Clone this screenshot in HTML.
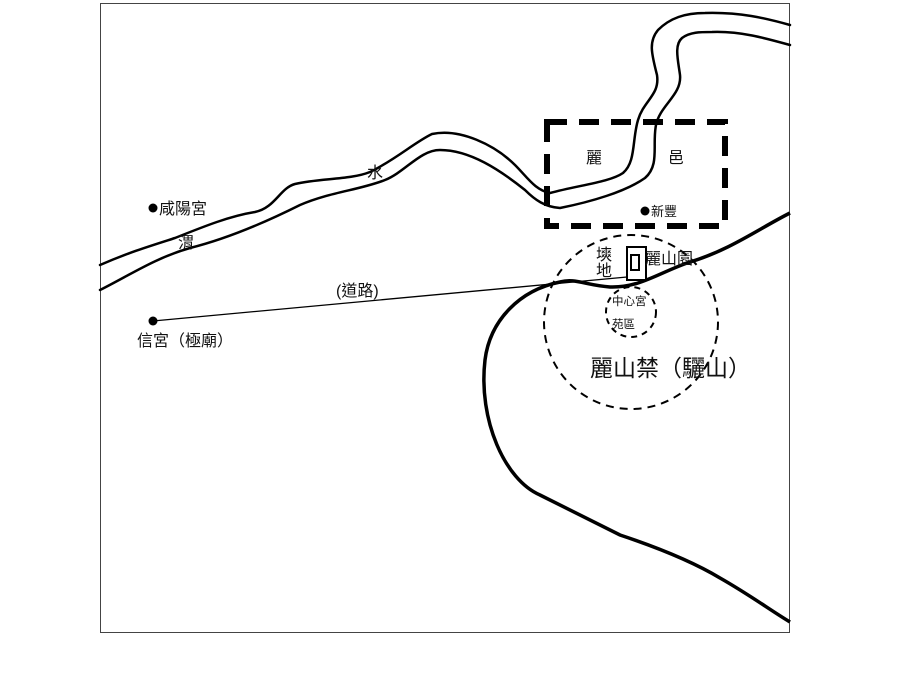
<!DOCTYPE html>
<html><head><meta charset="utf-8"><style>
body{margin:0;background:#fff}
svg text{font-family:"Liberation Sans","Noto Sans CJK TC",sans-serif;fill:#111}
</style></head><body>
<svg width="921" height="691" viewBox="0 0 921 691" xmlns="http://www.w3.org/2000/svg">
<rect x="100.5" y="3.5" width="689" height="629" fill="none" stroke="#444" stroke-width="1"/>
<g fill="none" stroke="#000" stroke-width="2.5" stroke-linecap="round">
<path d="M100,265 C130,252 150,246 175,238 C205,226 230,216 255,212 C275,208 280,188 295,184 C320,178 350,180 370,172 C395,160 415,142 432,134 C460,128 495,145 515,165 C528,178 535,190 550,193 C580,185 610,182 623,173 C636,162 632,140 638,120 C644,100 660,95 657,75 C652,55 648,42 658,30 C670,18 685,13 705,13 C740,12 765,18 790,25"/>
<path d="M100,290 C130,275 155,258 190,248 C230,238 270,220 300,205 C330,192 360,190 385,180 C405,172 420,150 440,150 C470,150 500,170 525,190 C535,200 545,207 560,208 C590,202 625,192 645,178 C660,165 652,145 656,125 C660,105 682,95 680,75 C678,60 674,45 682,38 C690,32 700,32 712,32 C740,31 765,38 790,45"/>
</g>
<rect x="547" y="122" width="178" height="104" fill="none" stroke="#000" stroke-width="6" stroke-dasharray="20,12"/>
<circle cx="631" cy="322" r="87" fill="none" stroke="#000" stroke-width="2" stroke-dasharray="8,6"/>
<circle cx="631" cy="312" r="25" fill="none" stroke="#000" stroke-width="2" stroke-dasharray="6,5"/>
<path d="M790,213 C760,228 730,250 690,262 C660,272 640,288 610,287 C585,285 575,278 560,282 C520,290 490,320 485,360 C478,420 505,480 540,495 C570,510 600,525 620,535 C650,545 690,560 720,578 C750,595 770,610 790,622" fill="none" stroke="#000" stroke-width="3.5"/>
<line x1="153" y1="321" x2="627" y2="277" stroke="#000" stroke-width="1.3"/>
<rect x="627" y="247" width="19" height="33" fill="#fff" stroke="#000" stroke-width="2"/>
<rect x="631" y="255" width="8" height="15" fill="none" stroke="#000" stroke-width="2"/>
<circle cx="153" cy="321" r="4.5" fill="#000"/>
<circle cx="153" cy="208" r="4.5" fill="#000"/>
<circle cx="645" cy="211" r="4.5" fill="#000"/>
<g font-size="16">
<text x="159" y="214">咸陽宮</text>
<text x="178" y="248">渭</text>
<text x="367" y="178">水</text>
<text x="336" y="296">(道路)</text>
<text x="137" y="346">信宮（極廟）</text>
<text x="586" y="163">麗</text>
<text x="668" y="163">邑</text>
<text x="596" y="260">塽</text>
<text x="596" y="276">地</text>
<text x="645" y="264">麗山園</text>
</g>
<text x="651" y="216" font-size="13">新豐</text>
<text x="612" y="305" font-size="11.5">中心宮</text>
<text x="612" y="328" font-size="11.5">苑區</text>
<text x="590" y="376" font-size="23">麗山禁（驪山）</text>
</svg>
</body></html>
